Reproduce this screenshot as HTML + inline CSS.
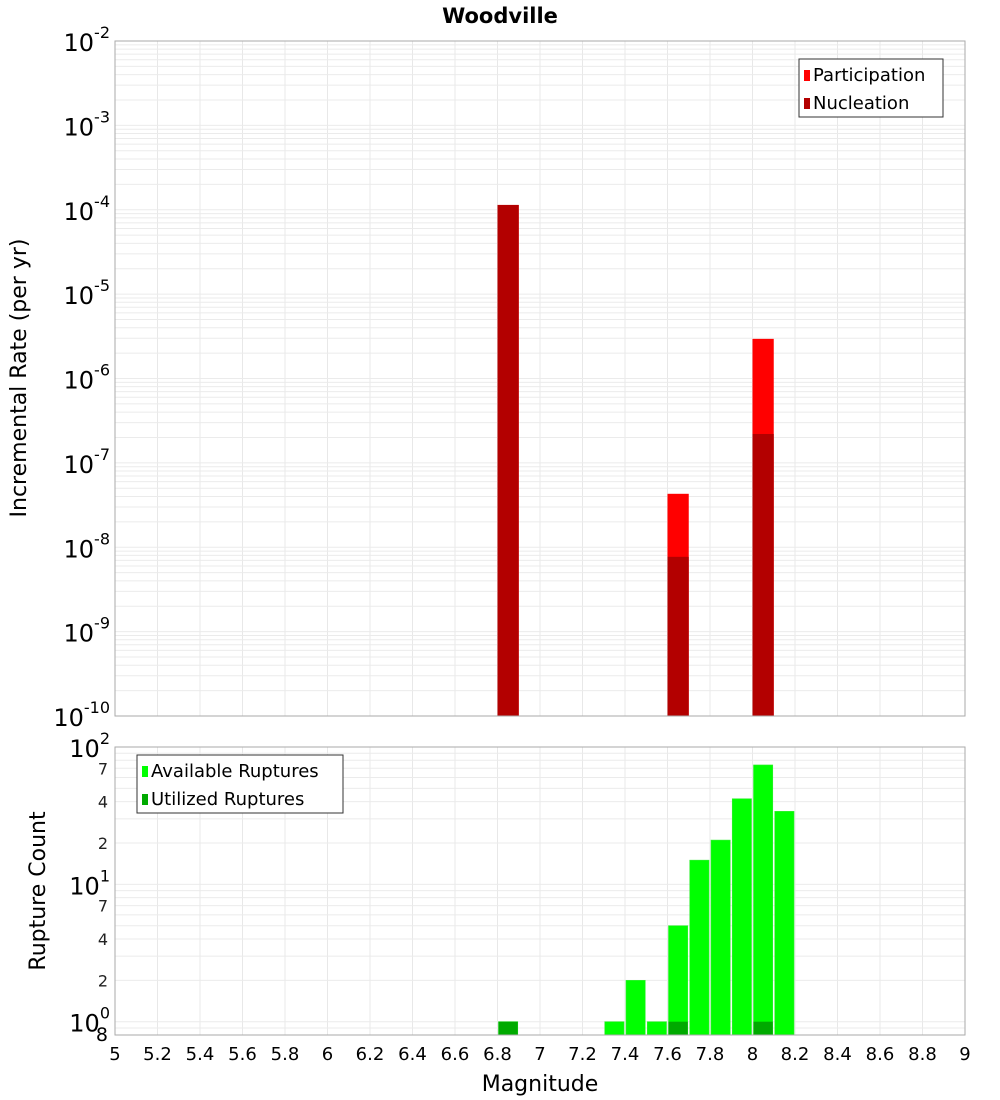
<!DOCTYPE html>
<html><head><meta charset="utf-8">
<style>
html,body{margin:0;padding:0;background:#fff;}
svg{display:block;font-family:"DejaVu Sans","Liberation Sans",sans-serif;}
</style></head>
<body>
<svg id="chart" width="1000" height="1100" viewBox="0 0 1000 1100" xmlns="http://www.w3.org/2000/svg">
<text x="500" y="23" text-anchor="middle" font-size="21" font-weight="bold">Woodville</text>
<g id="topPanel"></g>
<g id="bottomPanel"></g>
<text x="540" y="1091" text-anchor="middle" font-size="22">Magnitude</text>
<text transform="translate(26,378) rotate(-90)" text-anchor="middle" font-size="22">Incremental Rate (per yr)</text>
<text transform="translate(45,891) rotate(-90)" text-anchor="middle" font-size="22">Rupture Count</text>
</svg>
<script>
const magnitudes = [6.85, 7.65, 8.05];
const participation = [1.14e-4, 4.3e-8, 2.95e-6];
const nucleation = [1.14e-4, 7.7e-9, 2.2e-7];
const countMags = [6.85, 7.35, 7.45, 7.55, 7.65, 7.75, 7.85, 7.95, 8.05, 8.15];
const available = [1, 1, 2, 1, 5, 15, 21, 42, 74, 34];
const utilized = [1, 0, 0, 0, 1, 0, 0, 0, 1, 0];
const xTicks = [5,5.2,5.4,5.6,5.8,6,6.2,6.4,6.6,6.8,7,7.2,7.4,7.6,7.8,8,8.2,8.4,8.6,8.8,9];
const topExps = [-10,-9,-8,-7,-6,-5,-4,-3,-2];
const botMinorLabels = [2,4,7];

const NS="http://www.w3.org/2000/svg";
function mk(tag,attrs,parent,text){const e=document.createElementNS(NS,tag);for(const k in attrs)e.setAttribute(k,attrs[k]);if(text!==undefined)e.textContent=text;parent.appendChild(e);return e;}
const L=115,R=965;
const xs=m=>L+(m-5)/(9-5)*(R-L);
const T0=41,T1=716;
const yT=v=>T1-(Math.log10(v)+10)/8*(T1-T0);
const B0=747,B1=1035,bMin=0.8,bMax=100;
const yB=v=>B1-(Math.log10(v)-Math.log10(bMin))/(Math.log10(bMax)-Math.log10(bMin))*(B1-B0);

const gTop=document.getElementById('topPanel'), gBot=document.getElementById('bottomPanel');
function frameGrid(g,y0,y1,yfun,decs){
  const gg=mk('g',{},g);
  
  
  xTicks.forEach(t=>mk('line',{x1:xs(t),x2:xs(t),y1:y0,y2:y1,stroke:'#e8e8e8','stroke-width':1},gg));
  decs.forEach(d=>{for(let k=1;k<10;k++){const v=k*Math.pow(10,d);const y=yfun(v);if(y<y0-0.5||y>y1+0.5)continue;mk('line',{x1:L,x2:R,y1:y,y2:y,stroke:'#ebebeb','stroke-width':1},gg);}});
}
frameGrid(gTop,T0,T1,yT,[-10,-9,-8,-7,-6,-5,-4,-3,-2]);
frameGrid(gBot,B0,B1,yB,[-1,0,1,2]);

magnitudes.forEach((m,i)=>{
  const x=xs(m-0.05), w=xs(m+0.05)-x;
  const p=mk('rect',{x:x,y:yT(participation[i]),width:w,height:T1-yT(participation[i]),fill:'#ff0000'},gTop);
  
  
  const n=mk('rect',{x:x,y:yT(nucleation[i]),width:w,height:T1-yT(nucleation[i]),fill:'#b30000'},gTop);
  
  
});
countMags.forEach((m,i)=>{
  const x=xs(m-0.05)+1, w=xs(m+0.05)-xs(m-0.05)-2;
  const a=mk('rect',{x:x,y:yB(available[i]),width:w,height:B1-yB(available[i]),fill:'#00ff00',stroke:'#33ee33','stroke-width':0.6},gBot);
  
  
  if(utilized[i]>0){
    const u=mk('rect',{x:x,y:yB(utilized[i]),width:w,height:B1-yB(utilized[i]),fill:'#00aa00'},gBot);
    
    
  }
});
mk('rect',{x:L,y:T0,width:R-L,height:T1-T0,fill:'none',stroke:'#aaa','stroke-width':1},gTop);
mk('rect',{x:L,y:B0,width:R-L,height:B1-B0,fill:'none',stroke:'#aaa','stroke-width':1},gBot);

topExps.forEach(e=>{
  const t=mk('text',{x:110,y:yT(Math.pow(10,e))+10,'text-anchor':'end','font-size':24},gTop);
  
  
  mk('tspan',{'font-size':24},t,'10');
  mk('tspan',{'font-size':16,dy:-13},t,String(e));
});
[0,1,2].forEach(e=>{
  const t=mk('text',{x:110,y:yB(Math.pow(10,e))+10,'text-anchor':'end','font-size':24},gBot);
  
  
  mk('tspan',{},t,'10');
  mk('tspan',{'font-size':16,dy:-13},t,String(e));
});
[0,1].forEach(e=>botMinorLabels.forEach(k=>{
  const t=mk('text',{x:108,y:yB(k*Math.pow(10,e))+6,'text-anchor':'end','font-size':16,fill:'#222'},gBot,String(k));
  
  
}));
{const t=mk('text',{x:108,y:1041,'text-anchor':'end','font-size':19},gBot,'8');

}
xTicks.forEach(v=>{
  const t=mk('text',{x:xs(v),y:1060,'text-anchor':'middle','font-size':18},gBot,String(v));
  
  
});
function legend(g,x,y,w,items,name){
  const lg=mk('g',{},g);
  
  
  mk('rect',{x:x,y:y,width:w,height:58,fill:'#fff',stroke:'#333','stroke-width':1},lg);
  items.forEach((it,i)=>{
    mk('rect',{x:x+5,y:y+11+i*28,width:6,height:11,fill:it[1]},lg);
    mk('text',{x:x+14,y:y+22+i*28,'font-size':18},lg,it[0]);
  });
}
legend(gTop,799,59,144,[['Participation','#ff0000'],['Nucleation','#b30000']],'top-legend');
legend(gBot,137,755,206,[['Available Ruptures','#00ff00'],['Utilized Ruptures','#00aa00']],'bottom-legend');
</script>
</body></html>
